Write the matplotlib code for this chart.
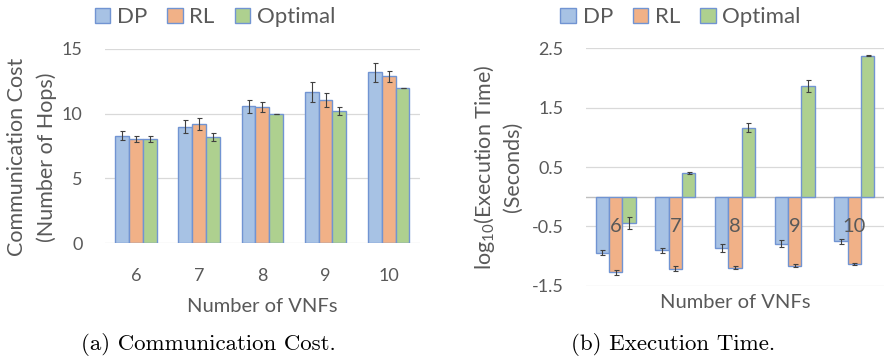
import numpy as np
import matplotlib
matplotlib.use("Agg")
import matplotlib.pyplot as plt

plt.rcParams['font.family'] = ['Lato', 'DejaVu Sans']
plt.rcParams['mathtext.fontset'] = 'custom'
plt.rcParams['mathtext.rm'] = 'Lato'
plt.rcParams['mathtext.it'] = 'Lato:italic'

vnfs = ['6', '7', '8', '9', '10']
methods = ['DP', 'RL', 'Optimal']

# communication cost (hops)
cost_dp = [8.28, 8.98, 10.57, 11.68, 13.20]
cost_rl = [8.05, 9.18, 10.50, 11.04, 12.89]
cost_opt = [8.05, 8.18, 10.0, 10.19, 11.96]
cost_dp_err = [0.35, 0.49, 0.49, 0.76, 0.75]
cost_rl_err = [0.25, 0.45, 0.40, 0.54, 0.44]
cost_opt_err = [0.25, 0.31, 0.0, 0.30, 0.0]

# log10 execution time (s)
time_dp = [-0.94, -0.90, -0.86, -0.79, -0.75]
time_rl = [-1.27, -1.21, -1.19, -1.16, -1.13]
time_opt = [-0.44, 0.40, 1.16, 1.86, 2.37]
time_dp_err = [0.045, 0.04, 0.07, 0.06, 0.045]
time_rl_err = [0.04, 0.04, 0.025, 0.025, 0.015]
time_opt_err = [0.10, 0.015, 0.08, 0.10, 0.01]

colors = ['#A7C2E4', '#F1B187', '#AED08F']
edge = '#7194D2'
txt = '#595959'
grid = '#D9D9D9'

fig = plt.figure(figsize=(8.85, 3.6), dpi=100)
ax1 = fig.add_axes([0.1186, 0.325, 0.356, 0.539])
ax2 = fig.add_axes([0.662, 0.2056, 0.337, 0.661])

x = np.arange(len(vnfs))
w = 0.222

def draw(ax, series, errs):
    bars = []
    for i, (vals, err) in enumerate(zip(series, errs)):
        b = ax.bar(x + (i - 1) * w, vals, w, color=colors[i], edgecolor=edge,
                   linewidth=1, yerr=err, capsize=1.8, zorder=3,
                   error_kw=dict(ecolor='#404040', elinewidth=0.8, capthick=0.8),
                   label=methods[i])
        bars.append(b)
    ax.set_xlim(-0.5, len(vnfs) - 0.5)
    for s in ax.spines.values():
        s.set_visible(False)
    ax.grid(axis='y', color=grid, linewidth=0.9, zorder=0)
    ax.tick_params(length=0, colors=txt, labelsize=13)
    return bars

bars = draw(ax1, [cost_dp, cost_rl, cost_opt], [cost_dp_err, cost_rl_err, cost_opt_err])
ax1.set_ylim(0, 15)
ax1.set_yticks([0, 5, 10, 15])
ax1.set_xticks(x)
ax1.set_xticklabels(vnfs)
ax1.tick_params(axis='x', pad=18)
ax1.tick_params(axis='y', pad=16)
ax1.set_xlabel('Number of VNFs', fontsize=14.5, color=txt, labelpad=10)

draw(ax2, [time_dp, time_rl, time_opt], [time_dp_err, time_rl_err, time_opt_err])
ax2.set_ylim(-1.5, 2.5)
ax2.set_yticks([-1.5, -0.5, 0.5, 1.5, 2.5])
ax2.set_yticklabels(['-1.5', '-0.5', '0.5', '1.5', '2.5'])
ax2.axhline(0, color='#BFBFBF', linewidth=1, zorder=2)
ax2.set_xticks([])
for xi, lab in zip(x, vnfs):
    ax2.text(xi, -0.5, lab, ha='center', va='center', fontsize=14.5, color=txt, zorder=4)
ax2.tick_params(axis='y', pad=16)
ax2.set_xlabel('Number of VNFs', fontsize=14.5, color=txt, labelpad=6)

# two-line y labels, each line centred
ylab_kw = dict(rotation=90, ha='center', va='center', fontsize=15.5, color=txt)
fig.text(0.019, 0.564, 'Communication Cost', **ylab_kw)
fig.text(0.053, 0.564, '(Number of Hops)', **ylab_kw)
fig.text(0.548, 0.536, 'log$_{10}$(Execution Time)', **ylab_kw)
fig.text(0.580, 0.536, '(Seconds)', **ylab_kw)

for cx in [0.243, 0.769]:
    fig.legend(handles=bars, loc='center', bbox_to_anchor=(cx, 0.952), ncol=3,
               frameon=False, fontsize=16, labelcolor=txt, handlelength=0.7,
               handleheight=0.7, handletextpad=0.3, columnspacing=0.9)

fig.text(0.235, 0.042, '(a) Communication Cost.', family='cmr10', fontsize=16.5, ha='center', va='center')
fig.text(0.761, 0.042, '(b) Execution Time.', family='cmr10', fontsize=16.5, ha='center', va='center')

fig.savefig('out.png', dpi=100)
